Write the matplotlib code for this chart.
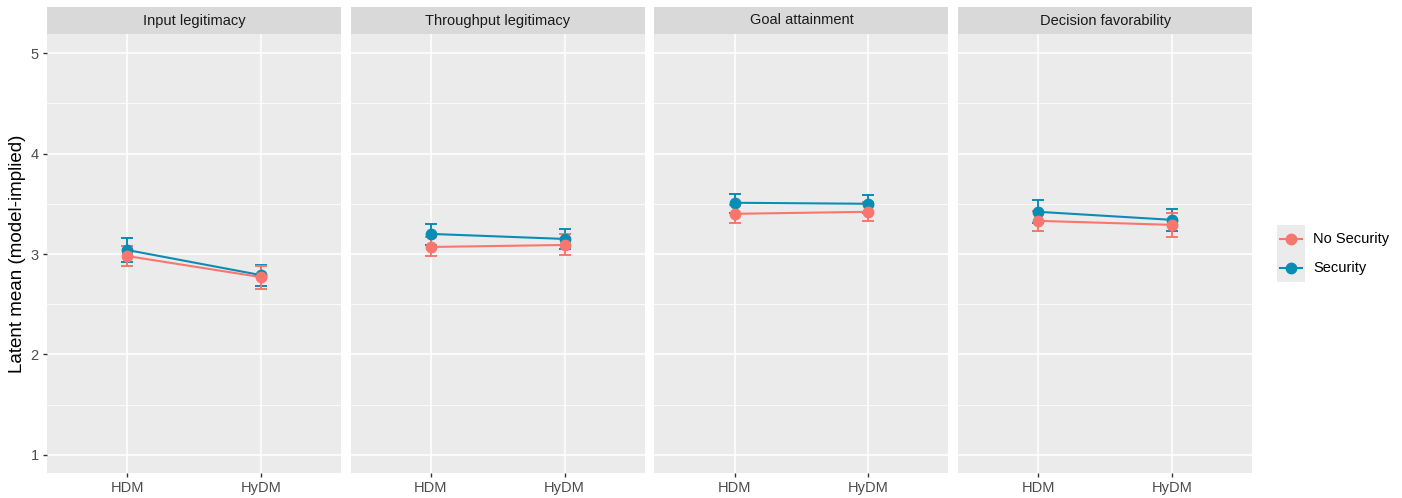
import matplotlib.pyplot as plt
from matplotlib.lines import Line2D
import numpy as np

plt.rcParams['font.family'] = ['Liberation Sans', 'DejaVu Sans']

facets = ['Input legitimacy', 'Throughput legitimacy', 'Goal attainment', 'Decision favorability']
conditions = ['HDM', 'HyDM']
groups = ['No Security', 'Security']
colors = {'No Security': '#F8766D', 'Security': '#0A8DB5'}

# means and 95% interval bounds, per facet -> [HDM, HyDM]
no_sec_mean = [[2.98, 2.77], [3.07, 3.09], [3.40, 3.42], [3.33, 3.29]]
no_sec_lo = [[2.88, 2.65], [2.98, 2.99], [3.31, 3.33], [3.23, 3.17]]
no_sec_hi = [[3.08, 2.88], [3.17, 3.20], [3.49, 3.52], [3.43, 3.41]]

sec_mean = [[3.04, 2.79], [3.20, 3.15], [3.51, 3.50], [3.42, 3.34]]
sec_lo = [[2.92, 2.68], [3.09, 3.05], [3.41, 3.41], [3.31, 3.23]]
sec_hi = [[3.16, 2.89], [3.30, 3.25], [3.60, 3.59], [3.54, 3.45]]

data = {
    'No Security': (no_sec_mean, no_sec_lo, no_sec_hi),
    'Security': (sec_mean, sec_lo, sec_hi),
}

W, H = 1402, 498
fig = plt.figure(figsize=(W / 100, H / 100), dpi=100)

panel_w = 294
gap = 9.7
left0 = 47
top_px = 34
bot_px = 473
strip_h = 27

x = np.arange(len(conditions))
for k, facet in enumerate(facets):
    l = left0 + k * (panel_w + gap)
    ax = fig.add_axes([l / W, (H - bot_px) / H, panel_w / W, (bot_px - top_px) / H])
    ax.set_facecolor('#EBEBEB')
    for s in ax.spines.values():
        s.set_visible(False)
    ax.set_xlim(-0.6, 1.6)
    ax.set_ylim(0.82, 5.19)
    ax.set_yticks([1, 2, 3, 4, 5])
    ax.set_yticks([1.5, 2.5, 3.5, 4.5], minor=True)
    ax.set_xticks(x)
    ax.set_xticklabels(conditions)
    ax.grid(True, which='major', color='white', lw=1.1)
    ax.grid(True, which='minor', axis='y', color='white', lw=0.55)
    ax.set_axisbelow(True)
    ax.tick_params(which='major', length=3, width=1, color='#333333',
                   labelcolor='#4D4D4D', labelsize=10.5, pad=3)
    ax.tick_params(which='minor', length=0)
    if k > 0:
        ax.tick_params(axis='y', left=False, labelleft=False)
    else:
        ax.set_ylabel('Latent mean (model-implied)', fontsize=13.5, color='black')
        ax.yaxis.set_label_coords(-21 / panel_w, 0.5)

    for g in ['Security', 'No Security']:
        m, lo, hi = data[g]
        mean = np.array(m[k])
        err = np.vstack([mean - np.array(lo[k]), np.array(hi[k]) - mean])
        ax.errorbar(x, mean, yerr=err, fmt='none', ecolor=colors[g],
                    elinewidth=1.4, capsize=4.5, capthick=1.4, zorder=3)
        ax.plot(x, mean, color=colors[g], lw=1.5, zorder=4)
        ax.plot(x, mean, 'o', color=colors[g], ms=7.5, zorder=5)

    # facet strip
    sax = fig.add_axes([l / W, (H - top_px) / H, panel_w / W, strip_h / H])
    sax.set_facecolor('#D9D9D9')
    sax.set_xticks([])
    sax.set_yticks([])
    for s in sax.spines.values():
        s.set_visible(False)
    sax.text(0.5, 0.5, facet, ha='center', va='center', fontsize=10.5,
             color='#1A1A1A', transform=sax.transAxes)

# legend
lax = fig.add_axes([1277 / W, (H - 282) / H, 28 / W, 57 / H])
lax.set_facecolor('#EBEBEB')
lax.set_xticks([])
lax.set_yticks([])
for s in lax.spines.values():
    s.set_visible(False)
lax.set_xlim(0, 1)
lax.set_ylim(0, 1)
for i, g in enumerate(groups):
    yy = 0.75 - i * 0.5
    lax.add_line(Line2D([0.1, 0.9], [yy, yy], color=colors[g], lw=1.5))
    lax.plot([0.5], [yy], 'o', color=colors[g], ms=7.5)
    fig.text(1313 / W, (H - (239 + i * 29)) / H, g, ha='left', va='center',
             fontsize=10.5, color='black')

fig.savefig('out.png', dpi=100)
